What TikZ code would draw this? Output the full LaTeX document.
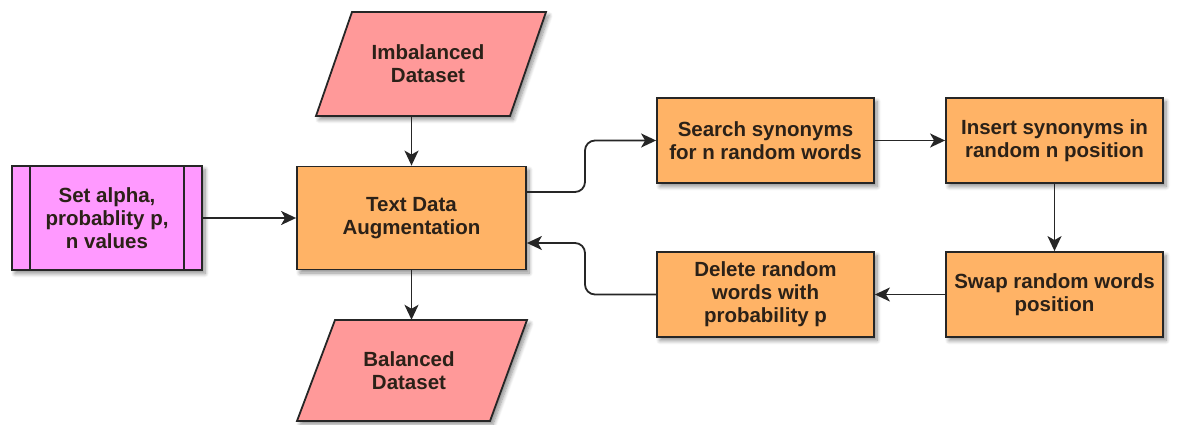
\documentclass[tikz,border=0pt]{standalone}
\usepackage{fontspec}
\setmainfont{Liberation Sans}
\usetikzlibrary{arrows.meta,shadows.blur}
\definecolor{orangefill}{HTML}{FFB366}
\definecolor{redfill}{HTML}{FF9999}
\definecolor{pinkfill}{HTML}{FF99FF}
\definecolor{txt}{HTML}{2B2118}
\tikzset{
  shad/.style={blur shadow={shadow xshift=3pt,shadow yshift=-3.5pt,shadow blur steps=8,shadow blur radius=4pt,shadow opacity=45}},
  lbl/.style={font=\bfseries\fontsize{20.5}{23}\selectfont,text=txt,align=center},
  procbox/.style={lbl,draw=black!85,line width=1.8pt,fill=orangefill,shad,inner sep=0pt},
  hold/.style={lbl,inner sep=0pt},
  para/.style={draw=black!85,line width=1.8pt,fill=redfill,shad},
  conn/.style={draw=black!85,line width=1.8pt,-{Stealth[length=15pt,width=14pt,inset=4pt]},rounded corners=10pt}
}
\begin{document}
\begin{tikzpicture}[x=1pt,y=-1pt]
\useasboundingbox (0,0) rectangle (1192,425);
% subprocess box
\node[procbox,fill=pinkfill,minimum width=190pt,minimum height=104pt] (set) at (107,218) {Set alpha,\\probablity p,\\n values};
\draw[black!85,line width=1.8pt] (set.north west)++(19,0) -- ++(0,104);
\draw[black!85,line width=1.8pt] (set.north east)++(-19,0) -- ++(0,104);
% main box
\node[procbox,minimum width=229pt,minimum height=103pt] (tda) at (411.5,218) {Text Data\\Augmentation};
% parallelograms
\node[hold,minimum width=230pt,minimum height=104pt] (imb) at (431,64) {};
\path[para] (352,12) -- (546,12) -- (510,116) -- (316,116) -- cycle;
\node[lbl] at (428,64) {Imbalanced\\Dataset};
\node[hold,minimum width=230pt,minimum height=101pt] (bal) at (412,370.5) {};
\path[para] (335,320) -- (527,320) -- (490,421) -- (297,421) -- cycle;
\node[lbl] at (409,371) {Balanced\\Dataset};
% right boxes
\node[procbox,minimum width=217pt,minimum height=85pt] (search) at (765.5,140.5) {Search synonyms\\for n random words};
\node[procbox,minimum width=217pt,minimum height=85pt] (insert) at (1054.5,140.5) {Insert synonyms in\\random n position};
\node[procbox,minimum width=217pt,minimum height=85pt] (swap) at (1054.5,294.5) {Swap random words\\position};
\node[procbox,minimum width=217pt,minimum height=85pt] (delete) at (765.5,294.5) {Delete random\\words with\\probability p};
% connectors
\draw[conn] (set.east) -- (tda.west);
\draw[conn] (imb.south -| tda.north) -- (tda.north);
\draw[conn] (tda.south) -- (bal.north -| tda.south);
\coordinate (mx) at (585,0);
\draw[conn] ([yshift=26pt]tda.east) -| (mx |- search.west) -- (search.west);
\draw[conn] (search.east) -- (insert.west);
\draw[conn] (insert.south) -- (swap.north);
\draw[conn] (swap.west) -- (delete.east);
\draw[conn] (delete.west) -| ([yshift=-25pt]mx |- tda.east) -- ([yshift=-25pt]tda.east);
\end{tikzpicture}
\end{document}
